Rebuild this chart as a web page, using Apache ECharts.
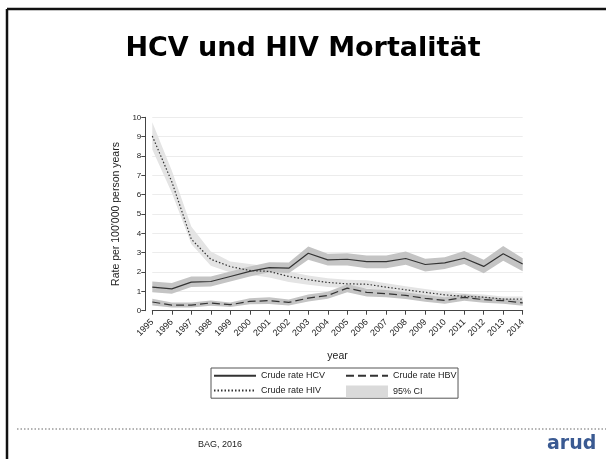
<!DOCTYPE html>
<html><head><meta charset="utf-8">
<script src="https://cdn.jsdelivr.net/npm/echarts@6/dist/echarts.min.js"></script>
<style>html,body{margin:0;padding:0;background:#fff}#c{width:606px;height:459px}</style>
</head><body><div id="c"></div>
<script>
const years = ['1995','1996','1997','1998','1999','2000','2001','2002','2003','2004','2005','2006','2007','2008','2009','2010','2011','2012','2013','2014'];
const yTicks = [0,1,2,3,4,5,6,7,8,9,10];
const hcv     = [1.22,1.13,1.48,1.51,1.77,2.03,2.23,2.20,2.97,2.63,2.66,2.54,2.54,2.70,2.39,2.47,2.71,2.29,2.94,2.41];
const hcvLow  = [0.96,0.88,1.22,1.25,1.51,1.77,1.99,1.94,2.63,2.34,2.34,2.20,2.20,2.37,2.03,2.15,2.41,1.94,2.58,2.04];
const hcvHigh = [1.51,1.43,1.77,1.77,2.03,2.29,2.51,2.49,3.32,2.94,2.97,2.85,2.85,3.06,2.68,2.77,3.09,2.63,3.35,2.71];
const hbv     = [0.45,0.29,0.29,0.40,0.31,0.48,0.52,0.43,0.65,0.79,1.17,0.95,0.88,0.79,0.64,0.53,0.69,0.57,0.52,0.40];
const hbvLow  = [0.27,0.17,0.17,0.26,0.19,0.33,0.34,0.27,0.48,0.62,0.96,0.74,0.69,0.60,0.46,0.36,0.52,0.41,0.36,0.26];
const hbvHigh = [0.62,0.43,0.43,0.53,0.43,0.64,0.69,0.58,0.84,0.98,1.37,1.13,1.07,0.96,0.81,0.69,0.86,0.72,0.65,0.53];
const hiv     = [9.03,6.67,3.70,2.66,2.28,2.08,2.03,1.77,1.60,1.46,1.39,1.37,1.22,1.08,0.95,0.82,0.74,0.70,0.60,0.60];
const hivLow  = [8.34,6.10,3.45,2.32,1.98,1.86,1.72,1.48,1.34,1.22,1.18,1.16,1.03,0.90,0.79,0.67,0.60,0.57,0.48,0.48];
const hivHigh = [9.74,7.25,4.35,3.06,2.54,2.42,2.29,2.03,1.82,1.68,1.60,1.58,1.42,1.26,1.12,0.98,0.89,0.84,0.73,0.73];

const diff = (a, b) => a.map((v, i) => +(v - b[i]).toFixed(3));
const bandDark = '#c4c4c4', bandLight = '#e4e4e4';

function band(name, stack, low, high, color, z) {
  return [
    {name: stack + 'Low', type:'line', stack: stack, data: low, symbol:'none', silent:true,
     lineStyle:{opacity:0}, z: z},
    {name: name, type:'line', stack: stack, data: diff(high, low), symbol:'none', silent:true,
     lineStyle:{opacity:0}, areaStyle:{color: color, opacity:1}, itemStyle:{color: '#d9d9d9'}, z: z}
  ];
}

const chart = echarts.init(document.getElementById('c'), null, {renderer:'canvas'});
const legendCommon = {
  orient:'vertical', itemWidth:42, itemHeight:12, itemGap:5,
  textStyle:{fontFamily:'Liberation Sans', fontSize:9, color:'#222', width:70},
  selectedMode:false
};
const hiddenSym = {opacity:0};
chart.setOption({
  animation:false,
  backgroundColor:'#fff',
  title:[
    {text:'HCV und HIV Mortalität', left:'center', top:35, padding:0,
     textStyle:{fontFamily:'DejaVu Sans', fontWeight:'bold', fontSize:27, color:'#000'}},
    {text:'BAG, 2016', left:198, top:440, padding:0,
     textStyle:{fontFamily:'Liberation Sans', fontWeight:'normal', fontSize:9, color:'#222'}},
    {text:'arud', left:547, top:435, padding:0,
     textStyle:{fontFamily:'DejaVu Sans', fontWeight:'bold', fontSize:19, color:'#3a5a92'}}
  ],
  graphic:[
    {type:'line', shape:{x1:7, y1:9, x2:606, y2:9}, style:{stroke:'#111', lineWidth:2.5}, silent:true},
    {type:'line', shape:{x1:7, y1:9, x2:7, y2:459}, style:{stroke:'#111', lineWidth:2.5}, silent:true},
    {type:'line', shape:{x1:17, y1:429, x2:606, y2:429}, style:{stroke:'#9a9a9a', lineWidth:1.5, lineDash:[1.5,2]}, silent:true}
  ],
  grid:{left:152.3, right:83.3, top:117.3, bottom:148.3},
  legend:[
    Object.assign({}, legendCommon, {left:211, top:368, padding:[3,133,3,2], borderColor:'#555', borderWidth:1,
      data:[{name:'Crude rate HCV', itemStyle:hiddenSym}, {name:'Crude rate HIV', itemStyle:hiddenSym}]}),
    Object.assign({}, legendCommon, {left:345, top:371, padding:0,
      data:[{name:'Crude rate HBV', itemStyle:hiddenSym}, {name:'95% CI', icon:'rect', itemStyle:{color:'#dadada', opacity:1}}]})
  ],
  xAxis:{
    type:'category', data: years, boundaryGap:false, offset:7,
    name:'year', nameLocation:'middle', nameGap:33,
    nameTextStyle:{fontFamily:'Liberation Sans', fontSize:10.5, color:'#222'},
    axisLine:{lineStyle:{color:'#444', width:1}},
    axisTick:{alignWithLabel:true, length:4, lineStyle:{color:'#444'}},
    axisLabel:{interval:0, rotate:45, margin:3, fontFamily:'Liberation Sans', fontSize:9, color:'#222'},
    splitLine:{show:false}
  },
  yAxis:{
    type:'value', min:yTicks[0], max:yTicks[yTicks.length-1], interval:1, offset:7,
    name:'Rate per 100\'000 person years', nameLocation:'middle', nameGap:21,
    nameTextStyle:{fontFamily:'Liberation Sans', fontSize:10.5, color:'#222'},
    axisLine:{show:true, lineStyle:{color:'#444', width:1}},
    axisTick:{show:true, length:4, lineStyle:{color:'#444'}},
    axisLabel:{margin:4, fontFamily:'Liberation Sans', fontSize:8, color:'#222'},
    splitLine:{show:true, lineStyle:{color:'#ececec', width:1}}
  },
  series:[
    ...band('95% CI', 'hiv', hivLow, hivHigh, bandLight, 1),
    ...band('hcvCI', 'hcv', hcvLow, hcvHigh, bandDark, 2),
    ...band('hbvCI', 'hbv', hbvLow, hbvHigh, bandDark, 2),
    {name:'Crude rate HCV', type:'line', data: hcv, symbol:'none', z:5,
     lineStyle:{color:'#333', width:1.2, type:'solid'}, itemStyle:{color:'#333'}},
    {name:'Crude rate HBV', type:'line', data: hbv, symbol:'none', z:5,
     lineStyle:{color:'#333', width:1.2, type:[8,4]}, itemStyle:{color:'#333'}},
    {name:'Crude rate HIV', type:'line', data: hiv, symbol:'none', z:5,
     lineStyle:{color:'#333', width:1.2, type:[1.5,2]}, itemStyle:{color:'#333'}}
  ]
});
</script></body></html>
